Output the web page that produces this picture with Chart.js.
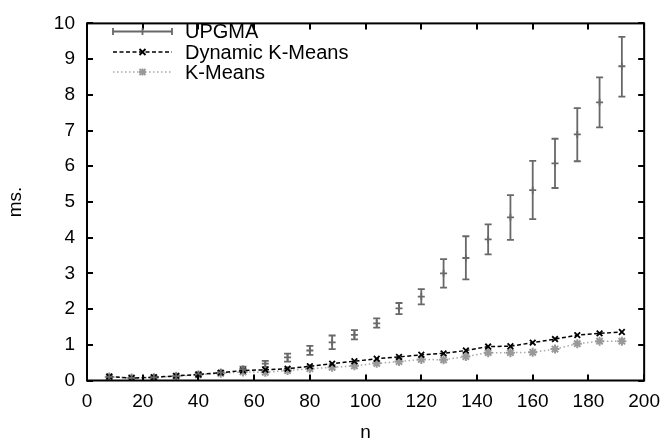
<!DOCTYPE html>
<html>
<head>
<meta charset="utf-8">
<script src="https://cdn.jsdelivr.net/npm/chart.js@4.4.1/dist/chart.umd.min.js"></script>
<style>
  html, body { margin: 0; padding: 0; background: #fff; }
  #wrap { width: 670px; height: 446px; }
</style>
</head>
<body>
<div id="wrap"><canvas id="c" width="670" height="446"></canvas></div>
<script>
const nValues   = [8,16,24,32,40,48,56,64,72,80,88,96,104,112,120,128,136,144,152,160,168,176,184,192];
const upgmaMean = [0.10,0.07,0.09,0.12,0.17,0.23,0.32,0.47,0.65,0.84,1.07,1.28,1.60,2.02,2.35,3.00,3.43,3.95,4.57,5.33,6.08,6.89,7.79,8.80];
const upgmaLow  = [0.08,0.05,0.07,0.10,0.14,0.19,0.25,0.38,0.53,0.72,0.88,1.15,1.48,1.86,2.13,2.60,2.83,3.53,3.94,4.52,5.39,6.14,7.09,7.95];
const upgmaHigh = [0.12,0.09,0.11,0.14,0.20,0.27,0.39,0.55,0.75,0.97,1.26,1.41,1.74,2.17,2.56,3.40,4.04,4.37,5.19,6.15,6.77,7.63,8.49,9.62];
const dynKMeans = [0.11,0.07,0.09,0.13,0.17,0.22,0.28,0.30,0.33,0.40,0.47,0.54,0.61,0.66,0.72,0.76,0.84,0.95,0.96,1.06,1.16,1.27,1.32,1.36];
const kMeans    = [0.10,0.07,0.08,0.12,0.16,0.20,0.24,0.23,0.28,0.33,0.37,0.41,0.48,0.53,0.59,0.58,0.67,0.78,0.78,0.79,0.88,1.03,1.10,1.10];
const xTicks = [0,20,40,60,80,100,120,140,160,180,200];
const yTicks = [0,1,2,3,4,5,6,7,8,9,10];
const seriesNames = ['UPGMA','Dynamic K-Means','K-Means'];

const FONT = "'Liberation Sans', Arial, Helvetica, sans-serif";
const UPGMA_COLOR = '#686868';
const DYN_COLOR = '#000000';
const KM_COLOR = '#a8a8a8';
const KM_MARK = '#999999';

function pts(ys) { return nValues.map((n, i) => ({x: n, y: ys[i]})); }

const framePlugin = {
  id: 'frame',
  beforeDatasetsDraw(chart) {
    const {ctx, scales: {x, y}} = chart;
    ctx.save();
    ctx.strokeStyle = UPGMA_COLOR;
    ctx.lineWidth = 1.8;
    nValues.forEach((n, i) => {
      const px = x.getPixelForValue(n);
      const lo = y.getPixelForValue(upgmaLow[i]);
      const hi = y.getPixelForValue(upgmaHigh[i]);
      ctx.beginPath();
      ctx.moveTo(px, lo); ctx.lineTo(px, hi);
      ctx.moveTo(px - 3.5, lo); ctx.lineTo(px + 3.5, lo);
      ctx.moveTo(px - 3.5, hi); ctx.lineTo(px + 3.5, hi);
      ctx.stroke();
    });
    ctx.restore();
  },
  afterDraw(chart) {
    const {ctx, chartArea: a, scales: {x, y}} = chart;
    ctx.save();
    ctx.strokeStyle = '#000';
    ctx.lineWidth = 2;
    ctx.strokeRect(a.left, a.top, a.right - a.left, a.bottom - a.top);
    ctx.beginPath();
    xTicks.forEach(v => {
      const px = Math.round(x.getPixelForValue(v));
      ctx.moveTo(px, a.bottom); ctx.lineTo(px, a.bottom - 6);
      ctx.moveTo(px, a.top); ctx.lineTo(px, a.top + 6);
    });
    yTicks.forEach(v => {
      const py = Math.round(y.getPixelForValue(v));
      ctx.moveTo(a.left, py); ctx.lineTo(a.left + 6, py);
      ctx.moveTo(a.right, py); ctx.lineTo(a.right - 6, py);
    });
    ctx.stroke();

    // legend
    const sx0 = 113, sx1 = 172, tx = 185;
    const rows = [31.5, 52, 72];
    ctx.font = '20px ' + FONT;
    ctx.fillStyle = '#000';
    ctx.textBaseline = 'middle';
    ctx.textAlign = 'left';
    ctx.strokeStyle = UPGMA_COLOR; ctx.lineWidth = 1.8; ctx.setLineDash([]);
    ctx.beginPath();
    ctx.moveTo(sx0, rows[0]); ctx.lineTo(sx1, rows[0]);
    ctx.moveTo(sx0, rows[0] - 3.5); ctx.lineTo(sx0, rows[0] + 3.5);
    ctx.moveTo(sx1, rows[0] - 3.5); ctx.lineTo(sx1, rows[0] + 3.5);
    const mx = (sx0 + sx1) / 2;
    ctx.moveTo(mx, rows[0] - 3.5); ctx.lineTo(mx, rows[0] + 3.5);
    ctx.stroke();
    ctx.strokeStyle = DYN_COLOR; ctx.lineWidth = 1.5; ctx.setLineDash([4, 2.5]);
    ctx.beginPath(); ctx.moveTo(sx0, rows[1]); ctx.lineTo(sx1, rows[1]); ctx.stroke();
    ctx.setLineDash([]); ctx.lineWidth = 1.8;
    ctx.beginPath();
    ctx.moveTo(mx - 3, rows[1] - 3); ctx.lineTo(mx + 3, rows[1] + 3);
    ctx.moveTo(mx - 3, rows[1] + 3); ctx.lineTo(mx + 3, rows[1] - 3);
    ctx.stroke();
    ctx.strokeStyle = KM_COLOR; ctx.lineWidth = 1.5; ctx.setLineDash([1.5, 2.5]);
    ctx.beginPath(); ctx.moveTo(sx0, rows[2]); ctx.lineTo(sx1, rows[2]); ctx.stroke();
    ctx.setLineDash([]); ctx.strokeStyle = KM_MARK; ctx.lineWidth = 1.8;
    ctx.beginPath();
    ctx.moveTo(mx - 3.5, rows[2]); ctx.lineTo(mx + 3.5, rows[2]);
    ctx.moveTo(mx, rows[2] - 3.5); ctx.lineTo(mx, rows[2] + 3.5);
    ctx.moveTo(mx - 3, rows[2] - 3); ctx.lineTo(mx + 3, rows[2] + 3);
    ctx.moveTo(mx - 3, rows[2] + 3); ctx.lineTo(mx + 3, rows[2] - 3);
    ctx.stroke();
    seriesNames.forEach((s, i) => ctx.fillText(s, tx, rows[i] + 1));
    ctx.restore();
  }
};

new Chart(document.getElementById('c'), {
  type: 'line',
  data: {
    datasets: [
      {
        label: seriesNames[0], data: pts(upgmaMean), showLine: false,
        pointStyle: 'cross', pointRadius: 3.5, pointBorderWidth: 1.8,
        borderColor: UPGMA_COLOR, backgroundColor: UPGMA_COLOR
      },
      {
        label: seriesNames[1], data: pts(dynKMeans), borderColor: DYN_COLOR,
        borderWidth: 1.5, borderDash: [4, 2.5], tension: 0,
        pointStyle: 'crossRot', pointRadius: 4, pointBorderWidth: 1.8,
        pointBorderColor: DYN_COLOR, backgroundColor: DYN_COLOR
      },
      {
        label: seriesNames[2], data: pts(kMeans), borderColor: KM_COLOR,
        borderWidth: 1.5, borderDash: [1.5, 2.5], tension: 0,
        pointStyle: 'star', pointRadius: 4.5, pointBorderWidth: 2,
        pointBorderColor: KM_MARK, backgroundColor: KM_MARK
      }
    ]
  },
  options: {
    responsive: false,
    animation: false,
    devicePixelRatio: 1,
    layout: { padding: { left: 0, top: 14, right: 21, bottom: 0 } },
    plugins: { legend: { display: false }, tooltip: { enabled: false } },
    scales: {
      x: {
        type: 'linear', min: 0, max: 200,
        afterBuildTicks: s => { s.ticks = xTicks.map(v => ({value: v})); },
        afterFit: s => { s.height = 65.5; },
        grid: { display: false, drawTicks: false },
        border: { display: false },
        ticks: { color: '#000', font: { family: FONT, size: 19 }, padding: 10, maxRotation: 0 },
        title: { display: true, text: 'n', color: '#000', font: { family: FONT, size: 19 }, padding: { top: 0, bottom: 2 } }
      },
      y: {
        type: 'linear', min: 0, max: 10,
        afterBuildTicks: s => { s.ticks = yTicks.map(v => ({value: v})); },
        afterFit: s => { s.width = 87; },
        grid: { display: false, drawTicks: false },
        border: { display: false },
        ticks: { color: '#000', font: { family: FONT, size: 19 }, padding: 12 },
        title: { display: true, text: 'ms.', color: '#000', font: { family: FONT, size: 19 }, padding: { top: 4, bottom: 0 } }
      }
    }
  },
  plugins: [framePlugin]
});
</script>
</body>
</html>
